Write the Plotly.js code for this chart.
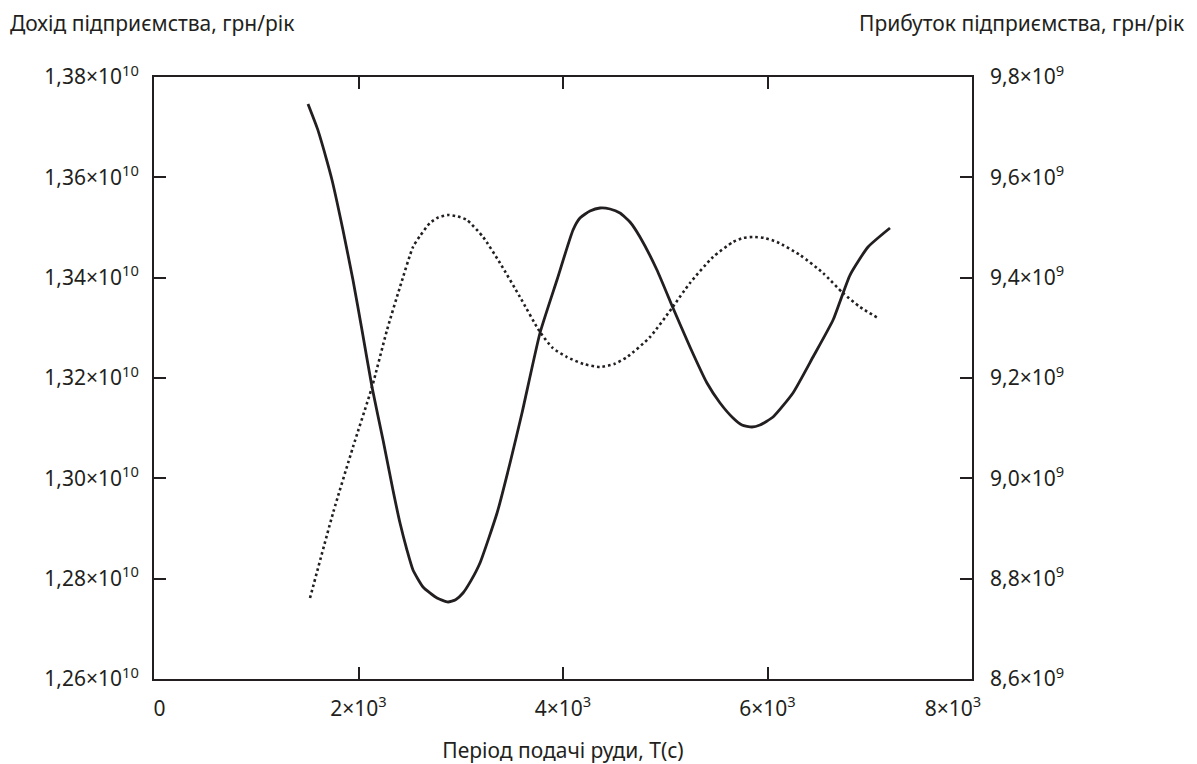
<!DOCTYPE html>
<html><head><meta charset="utf-8">
<script src="https://cdn.plot.ly/plotly-3.0.1.min.js"></script>
<style>html,body{margin:0;padding:0;background:#fff}</style>
</head><body><div id="chart" style="width:1197px;height:764px"></div>
<script>
// Період подачі руди, T (c) — solid curve (дохід)
const periodRevenue = [1506,1600,1680,1741,1848,1946,2034,2132,2240,2337,2406,2474,2533,2631,2768,2875,2950,3022,3100,3188,3355,3482,3599,3775,3941,4098,4166,4264,4362,4460,4557,4655,4753,4919,5076,5242,5408,5536,5663,5750,5848,5926,6054,6249,6445,6641,6807,6983,7198];
// Дохід підприємства, ×10^10 грн/рік
const revenue = [1.37462,1.36960,1.36410,1.35947,1.34950,1.33953,1.32957,1.31820,1.30764,1.29767,1.29109,1.28571,1.28173,1.27834,1.27614,1.27535,1.27580,1.27714,1.27960,1.28312,1.29309,1.30306,1.31302,1.32897,1.33953,1.34950,1.35189,1.35329,1.35389,1.35369,1.35289,1.35110,1.34811,1.34153,1.33395,1.32618,1.31900,1.31502,1.31203,1.31063,1.31023,1.31063,1.31222,1.31701,1.32418,1.33156,1.34053,1.34611,1.34990];
// Період подачі руди, T (c) — dotted curve (прибуток)
const periodProfit = [1526,1751,1946,2132,2279,2406,2533,2601,2699,2780,2875,2970,3061,3218,3384,3579,3775,3900,4039,4200,4362,4500,4626,4851,5066,5242,5467,5663,5760,5858,5970,6093,6318,6543,6738,6905,7081];
// Прибуток підприємства, ×10^9 грн/рік
const profit = [8.7614,8.9309,9.0624,9.1820,9.2957,9.3814,9.4611,9.4830,9.5090,9.5200,9.5249,9.5220,9.5149,9.4811,9.4292,9.3615,9.2917,9.2598,9.2418,9.2279,9.2219,9.2279,9.2418,9.2817,9.3395,9.3894,9.4412,9.4711,9.4791,9.4811,9.4791,9.4711,9.4452,9.4093,9.3694,9.3415,9.3196];

const NB = '\u00A0';
const xTickVals = [0,2000,4000,6000,8000];
const xTickText = [NB+NB+'0','2×10<sup>3</sup>','4×10<sup>3</sup>','6×10<sup>3</sup>','8×10<sup>3</sup>'+NB.repeat(7)];
const yTickVals = [1.26,1.28,1.30,1.32,1.34,1.36,1.38];
const yTickText = ['1,26×10<sup>10</sup>','1,28×10<sup>10</sup>','1,30×10<sup>10</sup>','1,32×10<sup>10</sup>','1,34×10<sup>10</sup>','1,36×10<sup>10</sup>','1,38×10<sup>10</sup>'];
const y2TickVals = [8.6,8.8,9.0,9.2,9.4,9.6,9.8];
const y2TickText = ['8,6×10<sup>9</sup>','8,8×10<sup>9</sup>','9,0×10<sup>9</sup>','9,2×10<sup>9</sup>','9,4×10<sup>9</sup>','9,6×10<sup>9</sup>','9,8×10<sup>9</sup>'];

const INK = '#231f20';
const FONT = 'Noto Sans, Open Sans, sans-serif';
const FS = 21;

const traces = [
  {x: periodRevenue, y: revenue, type: 'scatter', mode: 'lines', yaxis: 'y',
   line: {color: INK, width: 2.8, shape: 'spline', smoothing: 0.5}, hoverinfo: 'skip'},
  {x: periodProfit, y: profit, type: 'scatter', mode: 'lines', yaxis: 'y2',
   line: {color: INK, width: 2.6, dash: '2.6px,3px', shape: 'spline', smoothing: 0.6}, hoverinfo: 'skip'}
];

const layout = {
  width: 1197, height: 764,
  margin: {l: 154, r: 225, t: 77, b: 85},
  paper_bgcolor: '#fff', plot_bgcolor: '#fff',
  showlegend: false,
  font: {family: FONT, color: INK, size: FS},
  xaxis: {
    range: [0, 8000], tickvals: xTickVals, ticktext: xTickText,
    showgrid: false, zeroline: false, showline: true, linecolor: INK, linewidth: 2,
    mirror: 'ticks', ticks: 'inside', ticklen: 12, tickwidth: 2, tickcolor: INK,
    tickfont: {size: FS, family: FONT, color: INK}, ticklabelstandoff: 10,
    title: {text: 'Період подачі руди, T(c)', font: {size: FS, family: FONT, color: INK}, standoff: 22},
    automargin: false, fixedrange: true
  },
  yaxis: {
    range: [1.26, 1.38], tickvals: yTickVals, ticktext: yTickText,
    showgrid: false, zeroline: false, showline: true, linecolor: INK, linewidth: 2,
    mirror: 'ticks', ticks: 'inside', ticklen: 12, tickwidth: 2, tickcolor: INK,
    tickfont: {size: FS, family: FONT, color: INK}, ticklabelstandoff: 9,
    automargin: false, fixedrange: true
  },
  yaxis2: {
    range: [8.6, 9.8], tickvals: y2TickVals, ticktext: y2TickText,
    overlaying: 'y', side: 'right', anchor: 'x',
    showgrid: false, zeroline: false, showline: false, ticks: '',
    tickfont: {size: FS, family: FONT, color: INK}, ticklabelstandoff: 17,
    automargin: false, fixedrange: true
  },
  annotations: [
    {text: 'Дохід підприємства, грн/рік', xref: 'paper', yref: 'paper',
     x: (8 - 154) / 818, y: 1 + (77 - 23) / 602, xanchor: 'left', yanchor: 'middle',
     showarrow: false, font: {size: FS, family: FONT, color: INK}},
    {text: 'Прибуток підприємства, грн/рік', xref: 'paper', yref: 'paper',
     x: (1186 - 154) / 818, y: 1 + (77 - 23) / 602, xanchor: 'right', yanchor: 'middle',
     showarrow: false, font: {size: FS, family: FONT, color: INK}}
  ]
};

Plotly.newPlot('chart', traces, layout, {displayModeBar: false, staticPlot: true});
</script>
</body></html>
